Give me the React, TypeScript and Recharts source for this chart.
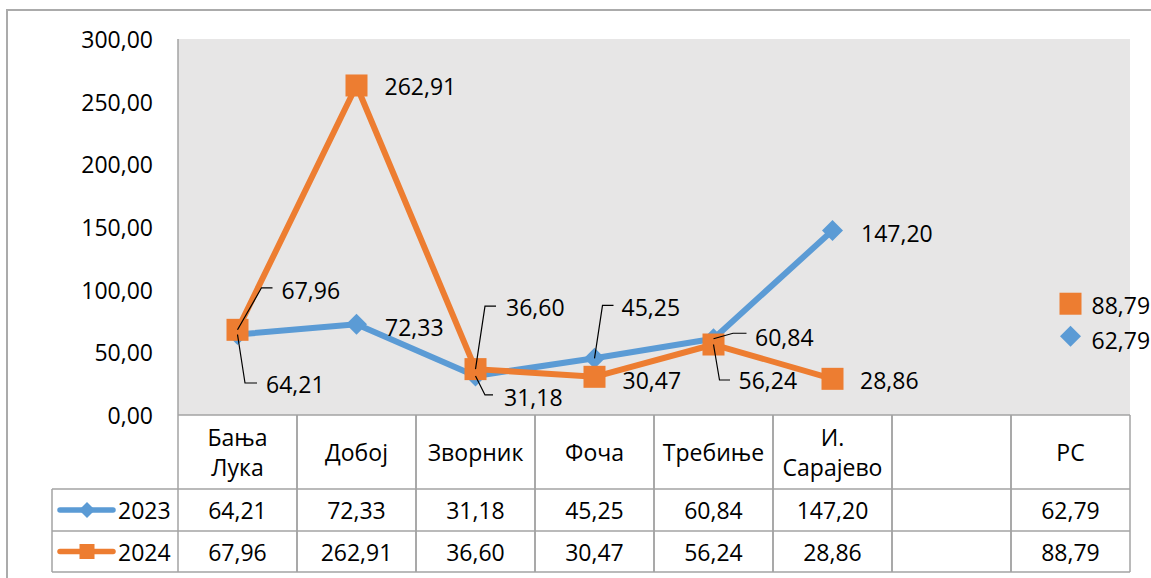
import React from 'react';
import { LineChart, Line, XAxis, YAxis, CartesianGrid } from 'recharts';

// ---- data ----
const categories = ['Бања\nЛука', 'Добој', 'Зворник', 'Фоча', 'Требиње', 'И.\nСарајево', '', 'РС'];
const series2023: (number | null)[] = [64.21, 72.33, 31.18, 45.25, 60.84, 147.2, null, 62.79];
const series2024: (number | null)[] = [67.96, 262.91, 36.6, 30.47, 56.24, 28.86, null, 88.79];
const seriesNames = ['2023', '2024'];
const yTicks = [0, 50, 100, 150, 200, 250, 300];

const data = categories.map((c, i) => ({ idx: i, name: c, s2023: series2023[i], s2024: series2024[i] }));

// ---- styles ----
const FONT = '"Open Sans", "Noto Sans", sans-serif';
const FS = 23;
const BLUE = '#5B9BD5';
const ORANGE = '#ED7D31';
const GRID = '#A3A3A3';
const COL_W = 119;
const HEADER_H = 74;
const ROW1_H = 42;
const ROW2_H = 41;
const LEGEND_W = 126;
const HEADER_LINE_GAP = 30;

const fmt = (v: number) => v.toFixed(2).replace('.', ',');

type LL = { dx: number; dy: number; leader?: number[][] } | null;
const labelLayout2023: LL[] = [
  { dx: 28.5, dy: 49, leader: [[0, 0], [7.5, 48.5], [19.5, 48.5]] },
  { dx: 28.5, dy: 2.4 },
  { dx: 28.5, dy: 21, leader: [[0, 0], [9.5, 19], [17.5, 19]] },
  { dx: 27, dy: -51.6, leader: [[0, 0], [8, -53], [19, -53]] },
  { dx: 41.5, dy: -2, leader: [[0, 0], [19.5, -5.5], [33, -5.5]] },
  { dx: 28.5, dy: 2.8 },
  null,
  { dx: 21, dy: 3.7 },
];
const labelLayout2024: LL[] = [
  { dx: 44, dy: -40, leader: [[0, 0], [24, -42], [35, -42]] },
  { dx: 28, dy: 1 },
  { dx: 30.5, dy: -62.4, leader: [[0, 0], [9.5, -63], [20.5, -63]] },
  { dx: 28, dy: 3 },
  { dx: 25, dy: 35.5, leader: [[0, 0], [6, 35.5], [16.5, 35.5]] },
  { dx: 27.5, dy: 1.2 },
  null,
  { dx: 21, dy: 1.3 },
];

const makeLabel = (layout: LL[]) => (props: any) => {
  const { x, y, value, index } = props;
  if (value == null || x == null || y == null) return null;
  const l = layout[index];
  if (!l) return null;
  return (
    <g>
      {l.leader && (
        <polyline
          points={l.leader.map((p) => `${x + p[0]},${y + p[1]}`).join(' ')}
          fill="none"
          stroke="#000"
          strokeWidth={1.2}
        />
      )}
      <text
        x={x + l.dx}
        y={y + l.dy}
        dominantBaseline="central"
        fontFamily={FONT}
        fontSize={FS}
        fill="#000"
      >
        {fmt(value)}
      </text>
    </g>
  );
};

const DiamondDot = (props: any) => {
  const { cx, cy, index } = props;
  if (cx == null || cy == null || props.value == null) return <g key={`d${index}`} />;
  const r = 10.5;
  return (
    <polygon
      key={`d${index}`}
      points={`${cx},${cy - r} ${cx + r},${cy} ${cx},${cy + r} ${cx - r},${cy}`}
      fill={BLUE}
    />
  );
};

const SquareDot = (props: any) => {
  const { cx, cy, index } = props;
  if (cx == null || cy == null || props.value == null) return <g key={`s${index}`} />;
  const h = 11;
  return <rect key={`s${index}`} x={cx - h} y={cy - h} width={2 * h} height={2 * h} fill={ORANGE} />;
};

const YTick = (props: any) => {
  const { y, payload } = props;
  return (
    <text x={153} y={y} textAnchor="end" dominantBaseline="central" fontFamily={FONT} fontSize={FS} fill="#000">
      {fmt(payload.value)}
    </text>
  );
};

const cellText = (x: number, y: number, s: string, anchor: string = 'middle') => (
  <text x={x} y={y} textAnchor={anchor as any} dominantBaseline="central" fontFamily={FONT} fontSize={FS} fill="#000">
    {s}
  </text>
);

const TableTick = (props: any) => {
  const { x, y, payload } = props;
  const i = payload.value as number;
  const left = x - COL_W / 2;
  const right = x + COL_W / 2;
  const top = y;
  const r1 = top + HEADER_H;
  const r2 = r1 + ROW1_H;
  const r3 = r2 + ROW2_H;
  const lines = categories[i].split('\n');
  const hc = (top + r1) / 2;
  const v1 = series2023[i];
  const v2 = series2024[i];
  const ln = { stroke: GRID, strokeWidth: 1.5 };
  const legendLeft = left - LEGEND_W;
  const firstY = hc - ((lines.length - 1) / 2) * HEADER_LINE_GAP;
  return (
    <g>
      <line x1={left} y1={top} x2={left} y2={r3} {...ln} />
      <line x1={right} y1={top} x2={right} y2={r3} {...ln} />
      <line x1={left} y1={r1} x2={right} y2={r1} {...ln} />
      <line x1={left} y1={r2} x2={right} y2={r2} {...ln} />
      <line x1={left} y1={r3} x2={right} y2={r3} {...ln} />
      {categories[i] !== '' && (
        <text textAnchor="middle" dominantBaseline="central" fontFamily={FONT} fontSize={FS} fill="#000">
          {lines.map((t, k) => (
            <tspan key={k} x={x} y={firstY + k * HEADER_LINE_GAP}>
              {t}
            </tspan>
          ))}
        </text>
      )}
      {v1 != null && cellText(x, (r1 + r2) / 2, fmt(v1))}
      {v2 != null && cellText(x, (r2 + r3) / 2, fmt(v2))}
      {i === 0 && (
        <g>
          <line x1={legendLeft} y1={r1} x2={left} y2={r1} {...ln} />
          <line x1={legendLeft} y1={r2} x2={left} y2={r2} {...ln} />
          <line x1={legendLeft} y1={r3} x2={left} y2={r3} {...ln} />
          <line x1={legendLeft} y1={r1} x2={legendLeft} y2={r3} {...ln} />
          {/* 2023 key */}
          <line x1={legendLeft + 8} y1={(r1 + r2) / 2} x2={legendLeft + 61} y2={(r1 + r2) / 2} stroke={BLUE} strokeWidth={5.5} strokeLinecap="round" />
          <polygon
            points={`${legendLeft + 35},${(r1 + r2) / 2 - 8} ${legendLeft + 43},${(r1 + r2) / 2} ${legendLeft + 35},${(r1 + r2) / 2 + 8} ${legendLeft + 27},${(r1 + r2) / 2}`}
            fill={BLUE}
          />
          {cellText(legendLeft + 66, (r1 + r2) / 2, seriesNames[0], 'start')}
          {/* 2024 key */}
          <line x1={legendLeft + 8} y1={(r2 + r3) / 2} x2={legendLeft + 61} y2={(r2 + r3) / 2} stroke={ORANGE} strokeWidth={5.5} strokeLinecap="round" />
          <rect x={legendLeft + 27.5} y={(r2 + r3) / 2 - 7.5} width={15} height={15} fill={ORANGE} />
          {cellText(legendLeft + 66, (r2 + r3) / 2, seriesNames[1], 'start')}
        </g>
      )}
    </g>
  );
};

export default function App() {
  return (
    <div style={{ position: 'absolute', left: 0, top: 0, width: 1151, height: 578, background: '#fff', overflow: 'hidden' }}>
      <div
        style={{
          position: 'absolute',
          left: 6,
          top: 9,
          width: 1200,
          height: 600,
          borderLeft: '2px solid #ABABAB',
          borderTop: '2px solid #ABABAB',
        }}
      />
      <div style={{ position: 'absolute', left: 0, top: 0 }}>
        <LineChart
          width={1151}
          height={578}
          data={data}
          margin={{ top: 39, right: 21, bottom: 13, left: 78 }}
        >
          <CartesianGrid horizontal={false} vertical={false} fill="#E7E6E6" stroke="none" />
          <XAxis
            dataKey="idx"
            type="number"
            domain={[-0.5, categories.length - 0.5]}
            ticks={categories.map((_, i) => i)}
            interval={0}
            height={150}
            tickSize={0}
            tickMargin={0}
            tickLine={false}
            axisLine={{ stroke: GRID, strokeWidth: 1.5 }}
            tick={TableTick}
          />
          <YAxis
            type="number"
            domain={[0, 300]}
            ticks={yTicks}
            interval={0}
            width={100}
            tickLine={false}
            axisLine={{ stroke: GRID, strokeWidth: 1.5 }}
            tick={YTick}
          />
          <Line
            dataKey="s2023"
            stroke={BLUE}
            strokeWidth={6}
            strokeLinejoin="round"
            strokeLinecap="round"
            dot={DiamondDot}
            activeDot={false}
            connectNulls={false}
            isAnimationActive={false}
            label={makeLabel(labelLayout2023)}
          />
          <Line
            dataKey="s2024"
            stroke={ORANGE}
            strokeWidth={6}
            strokeLinejoin="round"
            strokeLinecap="round"
            dot={SquareDot}
            activeDot={false}
            connectNulls={false}
            isAnimationActive={false}
            label={makeLabel(labelLayout2024)}
          />
        </LineChart>
      </div>
    </div>
  );
}
